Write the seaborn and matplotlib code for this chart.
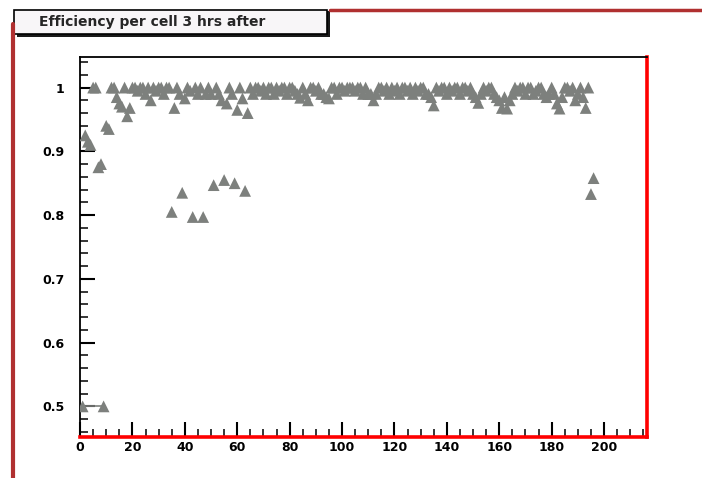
import matplotlib
matplotlib.use("Agg")
import matplotlib.pyplot as plt
import seaborn as sns
import pandas as pd
from matplotlib.lines import Line2D
from matplotlib.patches import Rectangle
from matplotlib.ticker import MultipleLocator

# efficiency per cell, cells 1..196
efficiency = [
    0.50, 0.925, 0.915, 0.91, 1.0, 1.0, 0.875, 0.88, 0.50, 0.94,
    0.935, 1.0, 1.0, 0.985, 0.975, 0.97, 1.0, 0.955, 0.968, 1.0,
    1.0, 0.995, 1.0, 1.0, 0.99, 1.0, 0.98, 1.0, 0.995, 1.0,
    1.0, 0.99, 1.0, 1.0, 0.805, 0.968, 1.0, 0.99, 0.835, 0.983,
    1.0, 0.995, 0.797, 1.0, 0.99, 1.0, 0.797, 0.99, 1.0, 0.99,
    0.847, 1.0, 0.99, 0.98, 0.855, 0.975, 1.0, 0.99, 0.85, 0.965,
    1.0, 0.983, 0.838, 0.96, 1.0, 0.99, 1.0, 1.0, 0.995, 1.0,
    0.99, 1.0, 1.0, 0.99, 1.0, 0.995, 1.0, 1.0, 0.99, 1.0,
    1.0, 0.995, 0.99, 0.984, 1.0, 0.99, 0.98, 1.0, 1.0, 0.995,
    1.0, 0.99, 0.99, 0.985, 0.983, 1.0, 1.0, 0.99, 1.0, 1.0,
    0.995, 1.0, 1.0, 1.0, 0.995, 1.0, 1.0, 0.99, 1.0, 0.99,
    0.99, 0.98, 0.99, 1.0, 1.0, 0.995, 1.0, 0.99, 1.0, 0.995,
    1.0, 0.99, 1.0, 1.0, 0.995, 1.0, 0.99, 1.0, 0.995, 1.0,
    1.0, 0.99, 0.99, 0.985, 0.972, 1.0, 0.995, 1.0, 1.0, 0.99,
    1.0, 0.995, 1.0, 1.0, 0.99, 1.0, 1.0, 0.995, 1.0, 0.99,
    0.985, 0.976, 0.99, 1.0, 0.995, 1.0, 1.0, 0.99, 0.985, 0.98,
    0.968, 0.985, 0.967, 0.98, 0.99, 1.0, 0.995, 1.0, 1.0, 0.99,
    1.0, 1.0, 0.99, 0.995, 1.0, 1.0, 0.99, 0.985, 0.99, 1.0,
    0.99, 0.975, 0.967, 0.985, 1.0, 1.0, 0.995, 1.0, 0.98, 0.99,
    1.0, 0.985, 0.968, 1.0, 0.833, 0.858,
]
cells = list(range(1, len(efficiency) + 1))

title = "Efficiency per cell 3 hrs after"
y_ticks = [0.5, 0.6, 0.7, 0.8, 0.9, 1.0]
y_labels = ["0.5", "0.6", "0.7", "0.8", "0.9", "1"]
x_ticks = [0, 20, 40, 60, 80, 100, 120, 140, 160, 180, 200]

df = pd.DataFrame({"cell": cells, "eff": efficiency})

sns.set_style("ticks")
plt.rcParams["font.family"] = ["DejaVu Sans"]

fig = plt.figure(figsize=(7.02, 4.78), dpi=100)
ax = fig.add_axes([0.114, 0.0858, 0.8077, 0.795])

marker_col = "#7d807d"
# the two dead cells at 0.5 are joined by a short line in the original
low = df[df["eff"] <= 0.5]
ax.plot(low["cell"], low["eff"], color=marker_col, lw=1.2, zorder=2)
sns.scatterplot(data=df, x="cell", y="eff", marker="^", s=72,
                color=marker_col, edgecolor="none", ax=ax, zorder=3)

ax.set_xlim(0, 216.4)
ax.set_ylim(0.452, 1.048)
ax.set_xlabel("")
ax.set_ylabel("")
ax.set_xticks(x_ticks)
ax.set_xticklabels([str(t) for t in x_ticks])
ax.set_yticks(y_ticks)
ax.set_yticklabels(y_labels)
ax.xaxis.set_minor_locator(MultipleLocator(5))
ax.yaxis.set_minor_locator(MultipleLocator(0.02))
ax.tick_params(axis="both", which="major", direction="in", length=11, width=1.5,
               labelsize=9, pad=3, colors="black")
ax.tick_params(axis="both", which="minor", direction="in", length=6, width=1.3)
ax.tick_params(axis="y", pad=11)
for lab in ax.get_xticklabels() + ax.get_yticklabels():
    lab.set_fontweight("bold")

for side in ["top", "left"]:
    ax.spines[side].set_color("black")
    ax.spines[side].set_linewidth(1.3)
for side in ["right", "bottom"]:
    ax.spines[side].set_color("red")
    ax.spines[side].set_linewidth(2.6)
    ax.spines[side].set_visible(True)

# pad frame (red) and title box
fig.add_artist(Line2D([0.018, 0.018], [0.0, 0.95], color="#b03030", lw=3))
fig.add_artist(Line2D([0.47, 1.0], [0.979, 0.979], color="#b03030", lw=2.5))
fig.add_artist(Rectangle((0.024, 0.923), 0.446, 0.054, transform=fig.transFigure,
                         facecolor="#1a1a1a", edgecolor="none"))
fig.add_artist(Rectangle((0.020, 0.929), 0.446, 0.050, transform=fig.transFigure,
                         facecolor="#f8f6f8", edgecolor="black", lw=1.2))
fig.text(0.055, 0.954, title, fontsize=10, fontweight="bold", va="center", ha="left")

fig.savefig("out.png", dpi=100)
